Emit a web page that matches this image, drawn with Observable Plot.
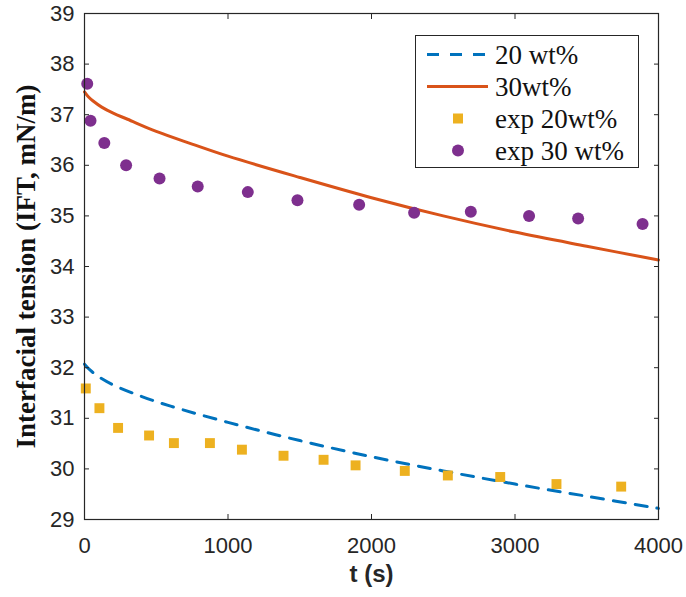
<!DOCTYPE html>
<html>
<head>
<meta charset="utf-8">
<script src="https://cdn.jsdelivr.net/npm/d3@7"></script>
<script src="https://cdn.jsdelivr.net/npm/@observablehq/plot@0.6"></script>
<style>
  html, body { margin: 0; padding: 0; background: #fff; }
  #chart { position: relative; width: 686px; height: 597px; }
  #legend { position: absolute; left: 415px; top: 35px; }
</style>
</head>
<body>
<div id="chart"></div>
<script>
// Model curves: interfacial tension (mN/m) vs time (s)
const modelTime20 = [0, 40, 100, 200, 400, 600, 1000, 1500, 2000, 2500, 3000, 3500, 4000];
const modelIFT20  = [32.07, 31.95, 31.82, 31.66, 31.43, 31.24, 30.92, 30.56, 30.24, 29.96, 29.70, 29.46, 29.22];

const modelTime30 = [0, 25, 60, 120, 200, 300, 500, 750, 1000, 1500, 2000, 2500, 3000, 3500, 4000];
const modelIFT30  = [37.45, 37.36, 37.27, 37.15, 37.03, 36.91, 36.67, 36.42, 36.18, 35.76, 35.36, 35.00, 34.68, 34.40, 34.13];

// Experimental measurements
const expTime20 = [9, 104, 234, 450, 623, 874, 1097, 1387, 1666, 1889, 2232, 2532, 2897, 3289, 3740];
const expIFT20  = [31.59, 31.20, 30.81, 30.66, 30.51, 30.51, 30.38, 30.26, 30.18, 30.07, 29.96, 29.87, 29.84, 29.70, 29.65];

const expTime30 = [19, 42, 138, 290, 523, 789, 1138, 1484, 1914, 2297, 2692, 3098, 3440, 3889];
const expIFT30  = [37.61, 36.88, 36.44, 36.00, 35.74, 35.58, 35.47, 35.31, 35.22, 35.06, 35.08, 35.00, 34.95, 34.84];

const xTicks = [0, 1000, 2000, 3000, 4000];
const yTicks = [29, 30, 31, 32, 33, 34, 35, 36, 37, 38, 39];

const seriesNames  = ["20 wt%", "30wt%", "exp 20wt%", "exp 30 wt%"];
const seriesColors = ["#0072BD", "#D95319", "#EDB120", "#7E2F8E"];

const xLabel = "t (s)";
const yLabel = "Interfacial tension (IFT, mN/m)";

const zip = (xs, ys) => xs.map((t, i) => ({t, v: ys[i]}));
const model20 = zip(modelTime20, modelIFT20);
const model30 = zip(modelTime30, modelIFT30);
const exp20 = zip(expTime20, expIFT20);
const exp30 = zip(expTime30, expIFT30);

const axisColor = "#262626";
const tickFont = "Liberation Sans, Arial, sans-serif";
const plain = d => String(d);
const blank = () => "";
const tickLen = 5;

const chart = Plot.plot({
  width: 686,
  height: 597,
  marginLeft: 84,
  marginRight: 28,
  marginTop: 13,
  marginBottom: 78,
  style: {background: "#fff", color: axisColor},
  x: {domain: [0, 4000], ticks: xTicks},
  y: {domain: [29, 39], ticks: yTicks},
  marks: [
    Plot.line(model20, {x: "t", y: "v", stroke: seriesColors[0], strokeWidth: 3, strokeDasharray: "12,10", curve: "catmull-rom"}),
    Plot.line(model30, {x: "t", y: "v", stroke: seriesColors[1], strokeWidth: 3, curve: "catmull-rom"}),
    Plot.dot(exp20, {x: "t", y: "v", symbol: "square", r: 5.6, fill: seriesColors[2], stroke: null}),
    Plot.dot(exp30, {x: "t", y: "v", symbol: "circle", r: 6, fill: seriesColors[3], stroke: null}),
    Plot.frame({stroke: axisColor, strokeWidth: 1.2}),
    // inward ticks on all four sides (outward ticks shifted into the frame)
    Plot.axisX(xTicks, {anchor: "bottom", tickSize: tickLen, dy: -tickLen, tickFormat: blank, label: null, stroke: axisColor}),
    Plot.axisX(xTicks, {anchor: "top", tickSize: tickLen, dy: tickLen, tickFormat: blank, label: null, stroke: axisColor}),
    Plot.axisY(yTicks, {anchor: "left", tickSize: tickLen, dx: tickLen, tickFormat: blank, label: null, stroke: axisColor}),
    Plot.axisY(yTicks, {anchor: "right", tickSize: tickLen, dx: -tickLen, tickFormat: blank, label: null, stroke: axisColor}),
    // tick labels
    Plot.axisX(xTicks, {anchor: "bottom", tickSize: 0, tickPadding: 18, tickFormat: plain, label: null, fontSize: 22, fontFamily: tickFont, fill: axisColor}),
    Plot.axisY(yTicks, {anchor: "left", tickSize: 0, tickPadding: 10, tickFormat: plain, label: null, fontSize: 22, fontFamily: tickFont, fill: axisColor}),
    Plot.text([xLabel], {frameAnchor: "bottom", dy: 62, text: d => d, fontSize: 24, fontWeight: "bold", fontFamily: tickFont, fill: axisColor}),
    Plot.text([yLabel], {frameAnchor: "left", dx: -58, rotate: -90, textAnchor: "middle", text: d => d, fontSize: 27, fontWeight: "bold", fontFamily: "Liberation Serif, Times New Roman, serif", fill: "#111"})
  ]
});

const host = document.getElementById("chart");
host.appendChild(chart);

// Legend box, upper right inside the axes
const lw = 224, lh = 133, rowGap = 32, firstRow = 19.5;
const legend = d3.create("svg")
  .attr("id", "legend")
  .attr("width", lw)
  .attr("height", lh);
legend.append("rect")
  .attr("x", 0.5).attr("y", 0.5)
  .attr("width", lw - 1).attr("height", lh - 1)
  .attr("fill", "#fff").attr("stroke", axisColor).attr("stroke-width", 1);

seriesNames.forEach((name, i) => {
  const cy = firstRow + i * rowGap;
  const g = legend.append("g");
  if (i === 0) {
    g.append("line").attr("x1", 12).attr("x2", 73).attr("y1", cy).attr("y2", cy)
      .attr("stroke", seriesColors[i]).attr("stroke-width", 3).attr("stroke-dasharray", "12,11");
  } else if (i === 1) {
    g.append("line").attr("x1", 12).attr("x2", 73).attr("y1", cy).attr("y2", cy)
      .attr("stroke", seriesColors[i]).attr("stroke-width", 3);
  } else if (i === 2) {
    g.append("rect").attr("x", 43 - 5).attr("y", cy - 5).attr("width", 10).attr("height", 10)
      .attr("fill", seriesColors[i]);
  } else {
    g.append("circle").attr("cx", 43).attr("cy", cy).attr("r", 6).attr("fill", seriesColors[i]);
  }
  g.append("text")
    .attr("x", 80).attr("y", cy + 9)
    .attr("font-family", "Liberation Serif, Times New Roman, serif")
    .attr("font-size", 27)
    .attr("fill", "#111")
    .text(name);
});
host.appendChild(legend.node());
</script>
</body>
</html>
